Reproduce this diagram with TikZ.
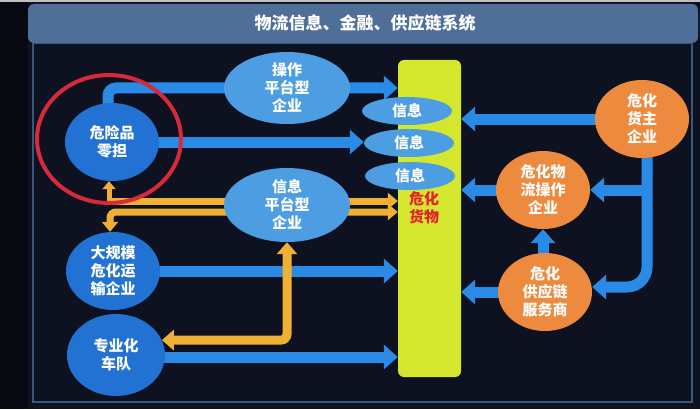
\documentclass[tikz,border=0pt]{standalone}
\usepackage{fontspec}
\setmainfont{Noto Sans CJK SC}
\usetikzlibrary{shapes.geometric,arrows.meta}
\pgfdeclarelayer{bg}
\pgfdeclarelayer{arr}
\pgfsetlayers{bg,arr,main}
\definecolor{bgcol}{HTML}{0D1120}
\definecolor{edgecol}{HTML}{080A12}
\definecolor{titlecol}{HTML}{4F6E98}
\definecolor{framecol}{HTML}{37577F}
\definecolor{darkblue}{HTML}{2272D4}
\definecolor{lightblue}{HTML}{4D9DE2}
\definecolor{arrowblue}{HTML}{2A8BE6}
\definecolor{barcol}{HTML}{D5E62E}
\definecolor{orangecol}{HTML}{EE8A3E}
\definecolor{yarrcol}{HTML}{F0B034}
\definecolor{ringred}{HTML}{D62A3C}
\definecolor{txtred}{HTML}{E4202A}
\tikzset{
  lbl/.style={text=white,font=\bfseries\fontsize{15}{18}\selectfont,align=center,inner sep=0pt},
  dcirc/.style={lbl,ellipse,fill=darkblue,minimum width=94pt,minimum height=78pt},
  lell/.style={lbl,ellipse,fill=lightblue,minimum width=126pt,minimum height=72pt},
  infoell/.style={lbl,ellipse,fill=lightblue,minimum width=90pt,minimum height=28pt},
  ocirc/.style={lbl,ellipse,fill=orangecol,minimum width=94pt,minimum height=78pt},
  barrow/.style={draw=arrowblue,line width=11pt,-{Triangle[width=24pt,length=14pt]}},
  yarrow/.style={draw=yarrcol,line width=7pt,-{Triangle[width=16pt,length=10pt]}},
  ydouble/.style={draw=yarrcol,line width=7pt,rounded corners=6pt,{Triangle[width=16pt,length=10pt]}-{Triangle[width=16pt,length=10pt]}},
  ywide/.style={draw=yarrcol,line width=9pt,rounded corners=6pt,{Triangle[width=20pt,length=12pt]}-{Triangle[width=20pt,length=12pt]}},
  ysmall/.style={draw=yarrcol,line width=5pt,-{Triangle[width=13pt,length=8pt]}}
}
\begin{document}
\begin{tikzpicture}[x=1pt,y=-1pt]
\useasboundingbox (0,0) rectangle (700,409);
\begin{pgfonlayer}{bg}
  \fill[bgcol] (0,0) rectangle (700,409);
  \fill[edgecol] (0,0) rectangle (28,409);
  \fill[black!25] (0,0) rectangle (700,2);
  \draw[framecol,line width=1.2pt] (33,43) rectangle (692,402);
\end{pgfonlayer}
\node[fill=titlecol,rounded corners=6pt,minimum width=670pt,minimum height=39pt,inner sep=0pt,text=white,font=\bfseries\fontsize{17}{20}\selectfont] (title) at (363,23.5) {\hspace{4pt}物流信息、金融、供应链系统};
% yellow bar
\node[fill=barcol,rounded corners=6pt,minimum width=63pt,minimum height=317pt,inner sep=0pt] (bar) at (429.5,218.5) {};
% left nodes
\node[dcirc] (lq) at (112,142) {危险品\\零担};
\node[dcirc] (dg) at (113,271) {大规模\\危化运\\输企业};
\node[dcirc,minimum width=98pt,minimum height=82pt] (zy) at (116,355) {专业化\\车队};
% middle ellipses
\node[lell] (op) at (287,88) {操作\\平台型\\企业};
\node[lell,minimum height=74pt] (xp) at (287,205) {信息\\平台型\\企业};
\node[infoell] (info1) at (407,111) {信息};
\node[infoell] (info2) at (409,143) {信息};
\node[infoell] (info3) at (410,176) {信息};
\node[lbl,text=txtred] (cargo) at (424,208) {危化\\货物};
% right nodes
\node[ocirc] (hz) at (642,119) {危化\\货主\\企业};
\node[ocirc] (wl) at (543,190) {危化物\\流操作\\企业};
\node[ocirc] (gy) at (545,292) {危化\\供应链\\服务商};
% red ring
\node[draw=ringred,line width=4pt,ellipse,minimum width=144pt,minimum height=128pt] (ring) at (109,139) {};
\coordinate (yl) at (107,201);
\coordinate (yl2) at (110,212);
\coordinate (yup) at (109,198);
\begin{pgfonlayer}{arr}
  % blue arrows
  \draw[barrow,rounded corners=8pt] ([xshift=-4pt]lq.center) |- (op.center -| bar.west);
  \draw[barrow] (lq.center) -- (lq.center -| info2.west);
  \draw[barrow] (dg.center) -- (dg.center -| bar.west);
  \draw[barrow] ([yshift=-2pt]zy.center) -- ([yshift=-2pt]zy.center -| bar.west);
  \draw[barrow] (hz.center) -- (hz.center -| bar.east);
  \draw[barrow] (wl.center) -- (wl.center -| bar.east);
  \draw[barrow] (gy.center) -- (gy.center -| bar.east);
  \draw[barrow] (wl.center |- gy.center) -- (wl.south);
  \draw[barrow,rounded corners=20pt] ([xshift=5pt]hz.center) |- ([yshift=5pt]gy.east);
  \draw[barrow] ([xshift=5pt]hz.center |- wl.center) -- (wl.east);
  % yellow arrows
  \draw[yarrow] (yl) -- (yl -| bar.west);
  \draw[ydouble] (dg.north -| yl2) |- (yl2 -| bar.west);
  \draw[ywide] (zy.18) -| (xp.south);
\end{pgfonlayer}
\draw[ysmall] (yup) -- (yup |- lq.south);
\end{tikzpicture}
\end{document}
